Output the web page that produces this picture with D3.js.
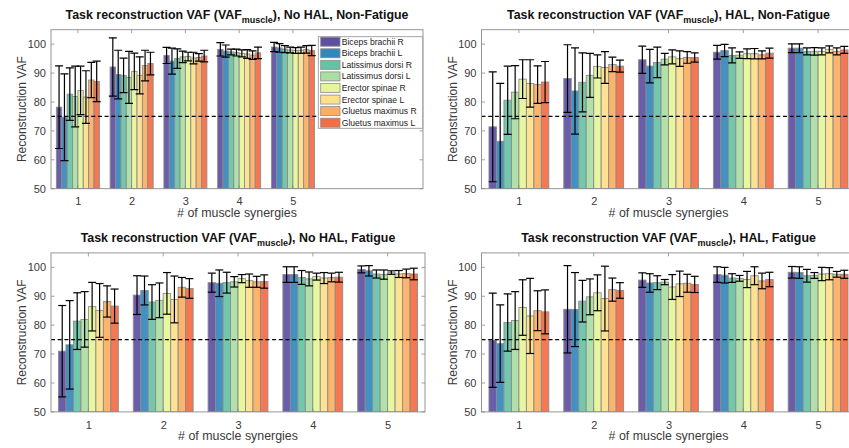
<html>
  <head>
    <title>Task reconstruction VAF</title>
    <script src="https://d3js.org/d3.v7.min.js"></script>
    <style>
      body { margin: 0; background: #fff; }
      svg text { font-family: "Liberation Sans", Arial, Helvetica, sans-serif; }
    </style>
  </head>
  <body>
    <svg id="chart" width="849" height="448"></svg>

    <script>

    // data
    const muscles = ["Biceps brachii R", "Biceps brachii L", "Latissimus dorsi R", "Latissimus dorsi L",
                     "Erector spinae R", "Erector spinae L", "Gluetus maximus R", "Gluetus maximus L"];
    const muscleColors = ["#5e4fa2", "#3288bd", "#66c2a5", "#abdda4", "#e6f598", "#fee08b", "#fdae61", "#f46d43"];
    const synergies = [1, 2, 3, 4, 5];
    const yTicks = [50, 60, 70, 80, 90, 100];
    const threshold = 75;

    // rows = number of synergies, columns = muscles
    const meanNoHalNonFatigue = [[78.2, 74.7, 82.7, 81.9, 84.0, 81.7, 87.6, 87.1],
                                 [92.1, 89.5, 89.2, 88.5, 90.6, 89.2, 92.6, 93.3],
                                 [96.1, 94.1, 95.0, 95.6, 95.7, 95.2, 95.4, 95.9],
                                 [98.2, 97.6, 97.3, 97.1, 96.8, 96.6, 96.2, 97.0],
                                 [99.0, 98.7, 98.3, 98.0, 97.8, 97.9, 98.2, 97.8]];
    const sdNoHalNonFatigue = [[14.3, 15.0, 9.1, 10.5, 8.4, 9.1, 6.1, 7.0],
                               [10.1, 8.4, 6.0, 9.0, 6.3, 6.4, 5.3, 3.9],
                               [2.8, 4.5, 3.4, 2.0, 1.5, 2.0, 1.3, 2.0],
                               [2.3, 2.1, 1.0, 1.2, 1.2, 1.5, 1.5, 2.0],
                               [1.6, 1.5, 1.2, 1.0, 1.0, 1.1, 1.3, 1.8]];

    const meanHalNonFatigue = [[71.4, 66.4, 80.6, 83.4, 87.9, 86.4, 86.0, 86.9],
                               [88.1, 83.8, 86.8, 89.2, 92.3, 91.9, 93.0, 92.4],
                               [94.6, 92.4, 93.7, 94.8, 95.6, 95.0, 95.4, 95.4],
                               [97.2, 97.8, 96.1, 96.2, 96.7, 96.7, 96.3, 96.9],
                               [98.6, 98.6, 97.5, 97.5, 97.5, 98.2, 97.5, 98.0]];
    const sdHalNonFatigue = [[19.0, 20.0, 11.8, 9.2, 6.7, 8.2, 6.5, 7.1],
                             [11.7, 14.9, 10.2, 7.6, 4.0, 5.5, 2.5, 2.1],
                             [4.7, 5.8, 5.3, 2.0, 2.4, 2.7, 2.0, 1.6],
                             [2.4, 2.1, 2.6, 1.1, 1.7, 1.8, 1.4, 1.7],
                             [1.5, 1.5, 1.2, 1.3, 1.2, 1.2, 1.2, 1.2]];

    const meanNoHalFatigue = [[71.0, 73.2, 81.4, 82.0, 86.4, 85.1, 88.2, 86.6],
                              [90.4, 92.0, 88.0, 88.6, 91.0, 88.9, 93.1, 92.7],
                              [94.7, 94.5, 94.7, 95.0, 96.1, 95.4, 95.0, 95.1],
                              [97.5, 97.5, 96.5, 96.0, 96.8, 96.3, 96.5, 96.6],
                              [99.3, 98.8, 97.7, 97.5, 98.2, 97.7, 97.9, 97.7]];
    const sdNoHalFatigue = [[15.8, 15.3, 9.8, 9.6, 8.4, 9.3, 5.4, 5.9],
                            [6.7, 5.0, 6.0, 6.0, 7.2, 8.1, 3.4, 3.4],
                            [3.3, 4.6, 3.6, 1.8, 1.4, 2.3, 1.9, 2.3],
                            [2.7, 2.7, 2.4, 2.4, 1.2, 1.9, 1.5, 1.7],
                            [1.2, 1.8, 1.4, 1.6, 0.6, 1.2, 1.5, 2.0]];

    const meanHalFatigue = [[74.8, 73.6, 80.9, 81.6, 86.1, 83.2, 85.0, 84.6],
                            [85.5, 85.4, 88.3, 89.8, 91.2, 89.2, 92.3, 92.0],
                            [95.6, 94.6, 94.7, 94.9, 93.2, 94.3, 94.5, 94.1],
                            [97.5, 97.3, 96.3, 96.2, 95.8, 97.1, 95.3, 95.8],
                            [98.3, 98.2, 97.1, 97.2, 97.7, 97.8, 97.6, 97.6]];
    const sdHalFatigue = [[16.3, 13.4, 9.9, 10.0, 9.6, 13.0, 6.9, 7.6],
                          [15.1, 12.8, 7.2, 6.2, 6.2, 11.2, 4.0, 2.7],
                          [2.5, 3.2, 2.4, 0.9, 4.3, 4.4, 3.1, 2.8],
                          [2.7, 2.7, 1.5, 1.0, 2.8, 3.1, 2.7, 2.5],
                          [2.0, 2.0, 2.2, 1.0, 2.3, 2.1, 1.0, 1.4]];

    const panels = [
      {cond: "No HAL, Non-Fatigue", mean: meanNoHalNonFatigue, sd: sdNoHalNonFatigue,
       left: 51, top: 29.7, width: 372, xMax: 7.42, legend: true},
      {cond: "HAL, Non-Fatigue", mean: meanHalNonFatigue, sd: sdHalNonFatigue,
       left: 481.5, top: 29.7, width: 374, xMax: 5.5, legend: false},
      {cond: "No HAL, Fatigue", mean: meanNoHalFatigue, sd: sdNoHalFatigue,
       left: 51, top: 252.9, width: 374, xMax: 5.5, legend: false},
      {cond: "HAL, Fatigue", mean: meanHalFatigue, sd: sdHalFatigue,
       left: 481.5, top: 252.9, width: 374, xMax: 5.5, legend: false}
    ];

    const svg = d3.select("svg#chart");
    const plotHeight = 159;
    const groupWidth = 0.8;
    const barW = groupWidth / muscles.length;
    const axisColor = "#8a8a8a";
    const labelColor = "#3a3a3a";

    panels.forEach((p, pi) => {
      const g = svg.append("g").attr("transform", "translate(" + p.left + "," + p.top + ")");

      const xScale = d3.scaleLinear().domain([0.5, p.xMax]).range([0, p.width]);
      const yScale = d3.scaleLinear().domain([50, 105]).range([plotHeight, 0]);
      const unit = xScale(1) - xScale(0);

      g.append("clipPath").attr("id", "clip" + pi)
        .append("rect").attr("width", p.width).attr("height", plotHeight);

      const plot = g.append("g").attr("clip-path", "url(#clip" + pi + ")");

      // flatten to one record per bar
      let rows = [];
      synergies.forEach((s, si) => {
        muscles.forEach((m, mi) => {
          rows.push({s: s, m: mi, v: p.mean[si][mi], e: p.sd[si][mi]});
        });
      });

      const barX = d => xScale(d.s - groupWidth / 2 + d.m * barW);

      plot.selectAll("rect.bar").data(rows)
        .join("rect").attr("class", "bar")
        .attr("x", d => barX(d))
        .attr("width", barW * unit)
        .attr("y", d => yScale(d.v))
        .attr("height", d => yScale(50) - yScale(d.v))
        .attr("fill", d => muscleColors[d.m])
        .attr("fill-opacity", 0.92)
        .attr("stroke", "#8c8c8c")
        .attr("stroke-width", 0.9);

      // error bars
      const cap = 4;
      const eb = plot.selectAll("g.err").data(rows).join("g").attr("class", "err")
        .attr("stroke", "#000").attr("stroke-width", 1.2);
      const cx = d => barX(d) + barW * unit / 2;
      eb.append("line")
        .attr("x1", cx).attr("x2", cx)
        .attr("y1", d => yScale(d.v - d.e)).attr("y2", d => yScale(d.v + d.e));
      eb.append("line")
        .attr("x1", d => cx(d) - cap).attr("x2", d => cx(d) + cap)
        .attr("y1", d => yScale(d.v + d.e)).attr("y2", d => yScale(d.v + d.e));
      eb.append("line")
        .attr("x1", d => cx(d) - cap).attr("x2", d => cx(d) + cap)
        .attr("y1", d => yScale(d.v - d.e)).attr("y2", d => yScale(d.v - d.e));

      // 75% threshold
      plot.append("line")
        .attr("x1", 0).attr("x2", p.width)
        .attr("y1", yScale(threshold)).attr("y2", yScale(threshold))
        .attr("stroke", "#000").attr("stroke-width", 1.3)
        .attr("stroke-dasharray", "4,2.7");

      // axes, ticks inside like matlab
      const tickLen = 3.5;
      const xAxis = d3.axisBottom(xScale).tickValues(synergies).tickSize(0).tickPadding(9)
                      .tickFormat(d3.format("d"));
      const yAxis = d3.axisLeft(yScale).tickValues(yTicks).tickSize(0).tickPadding(5);

      const xa = g.append("g").attr("transform", "translate(0," + plotHeight + ")").call(xAxis);
      const ya = g.append("g").call(yAxis);
      [xa, ya].forEach(a => {
        a.select(".domain").remove();
        a.selectAll("text").attr("fill", labelColor).style("font-size", "11px");
      });

      const ticks = g.append("g").attr("stroke", axisColor).attr("stroke-width", 0.8);
      synergies.forEach(s => {
        ticks.append("line").attr("x1", xScale(s)).attr("x2", xScale(s))
          .attr("y1", plotHeight).attr("y2", plotHeight - tickLen);
        ticks.append("line").attr("x1", xScale(s)).attr("x2", xScale(s))
          .attr("y1", 0).attr("y2", tickLen);
      });
      yTicks.forEach(t => {
        ticks.append("line").attr("x1", 0).attr("x2", tickLen)
          .attr("y1", yScale(t)).attr("y2", yScale(t));
        ticks.append("line").attr("x1", p.width).attr("x2", p.width - tickLen)
          .attr("y1", yScale(t)).attr("y2", yScale(t));
      });

      g.append("rect")
        .attr("width", p.width).attr("height", plotHeight)
        .attr("fill", "none").attr("stroke", axisColor).attr("stroke-width", 0.9);

      // title with subscript
      const title = g.append("text")
        .attr("x", p.width / 2).attr("y", -10.5)
        .attr("text-anchor", "middle")
        .style("font-size", "12.4px").style("font-weight", "bold").attr("fill", "#111");
      title.append("tspan").text("Task reconstruction VAF (VAF");
      title.append("tspan").attr("dy", 4).style("font-size", "9px").text("muscle");
      title.append("tspan").attr("dy", -4).text("), " + p.cond);

      g.append("text")
        .attr("x", p.width / 2).attr("y", plotHeight + 28.6)
        .attr("text-anchor", "middle")
        .style("font-size", "12.4px").attr("fill", labelColor)
        .text("# of muscle synergies");

      g.append("text")
        .attr("transform", "translate(" + (-29) + "," + (plotHeight / 2) + ") rotate(-90)")
        .attr("text-anchor", "middle").attr("dominant-baseline", "central")
        .style("font-size", "12px").attr("fill", labelColor)
        .text("Reconstruction VAF");

      if (p.legend) {
        const lg = g.append("g").attr("transform", "translate(" + (p.width - 104.7) + ",7)");
        lg.append("rect").attr("width", 104.4).attr("height", 91.6)
          .attr("fill", "#fff").attr("stroke", "#9a9a9a").attr("stroke-width", 0.9);
        const item = lg.selectAll("g.item").data(muscles).join("g").attr("class", "item")
          .attr("transform", (d, i) => "translate(2.4," + (5 + i * 11.57) + ")");
        item.append("rect")
          .attr("y", -4.5).attr("width", 19.3).attr("height", 9)
          .attr("fill", (d, i) => muscleColors[i])
          .attr("stroke", "#8c8c8c").attr("stroke-width", 0.8);
        item.append("text")
          .attr("x", 21).attr("dominant-baseline", "central")
          .style("font-size", "8.6px").attr("fill", "#222")
          .text(d => d);
      }
    });

    </script>
  </body>
</html>
